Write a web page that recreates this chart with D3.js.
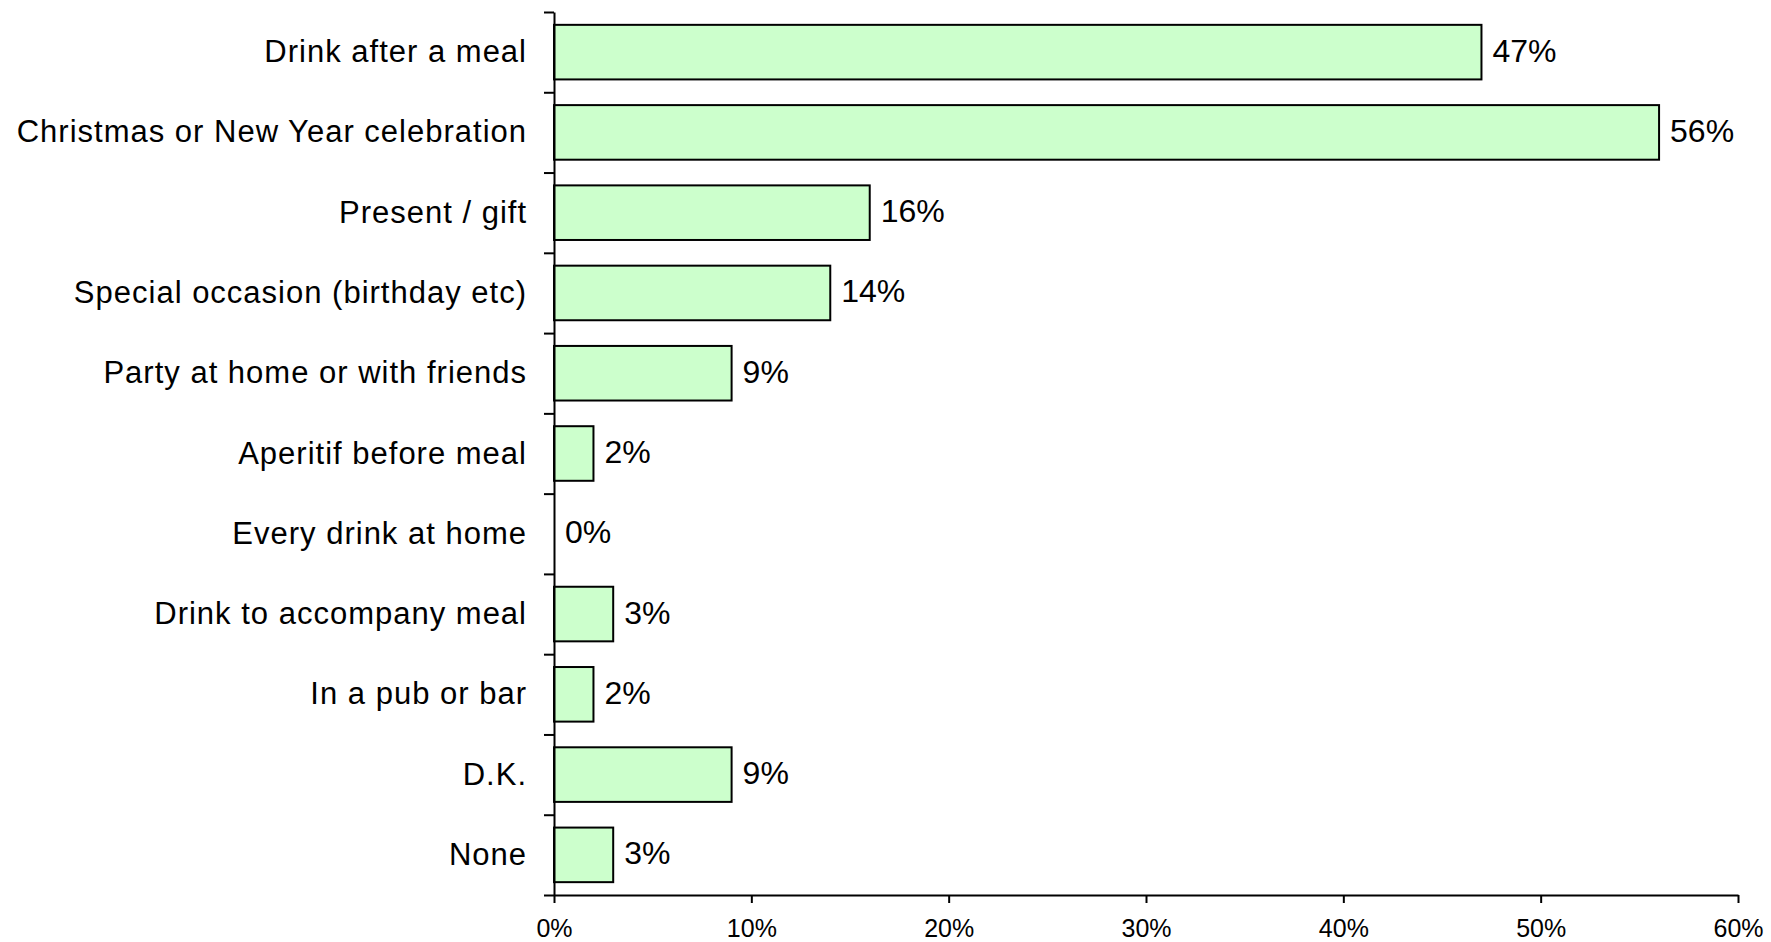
<!DOCTYPE html>
<html>
<head>
<meta charset="utf-8">
<script src="https://cdn.jsdelivr.net/npm/d3@7"></script>
<style>
  html, body { margin: 0; padding: 0; background: #ffffff; }
  svg { display: block; font-family: "Liberation Sans", Arial, sans-serif; }
</style>
</head>
<body>
<svg id="chart" width="1771" height="942"></svg>
<script>
// Occasions for drinking, share of respondents (%)
const categories = [
  "Drink after a meal",
  "Christmas or New Year celebration",
  "Present / gift",
  "Special occasion (birthday etc)",
  "Party at home or with friends",
  "Aperitif before meal",
  "Every drink at home",
  "Drink to accompany meal",
  "In a pub or bar",
  "D.K.",
  "None"
];
const values = [47, 56, 16, 14, 9, 2, 0, 3, 2, 9, 3];
const xTicks = [0, 10, 20, 30, 40, 50, 60];

const svg = d3.select("#chart");

const plotLeft = 554, plotRight = 1738, plotTop = 12, plotBottom = 895;

const x = d3.scaleLinear().domain([0, 60]).range([plotLeft, plotRight]);
const y = d3.scaleBand()
  .domain(categories)
  .range([plotTop, plotBottom])
  .paddingInner(0.32)
  .paddingOuter(0.16);

// Bars
svg.append("g").selectAll("rect")
  .data(values)
  .join("rect")
  .attr("x", x(0))
  .attr("y", (d, i) => y(categories[i]))
  .attr("width", d => x(d) - x(0))
  .attr("height", y.bandwidth())
  .attr("fill", "#ccffcc")
  .attr("stroke", "#000")
  .attr("stroke-width", 2);

// Value labels
svg.append("g").selectAll("text")
  .data(values)
  .join("text")
  .attr("x", d => x(d) + 11)
  .attr("y", (d, i) => y(categories[i]) + y.bandwidth() / 2 + 9.5)
  .attr("font-size", 32)
  .attr("fill", "#000")
  .text(d => d + "%");

// Category axis: ticks sit on the boundaries between bands
const yEdges = d3.scaleLinear().domain([0, categories.length]).range([plotTop, plotBottom]);
const yAxis = svg.append("g")
  .attr("transform", `translate(${plotLeft},0)`)
  .call(d3.axisLeft(yEdges)
    .tickValues(d3.range(categories.length + 1))
    .tickSize(10)
    .tickSizeOuter(0)
    .tickFormat(""));
yAxis.select(".domain").attr("stroke", "#000").attr("stroke-width", 2);
yAxis.selectAll(".tick line").attr("stroke", "#000").attr("stroke-width", 2);

// Category labels
svg.append("g").selectAll("text")
  .data(categories)
  .join("text")
  .attr("x", plotLeft - 27)
  .attr("y", d => y(d) + y.bandwidth() / 2 + 10)
  .attr("text-anchor", "end")
  .attr("font-size", 31)
  .attr("letter-spacing", 1)
  .attr("fill", "#000")
  .text(d => d);

// Value axis
const xAxis = svg.append("g")
  .attr("transform", `translate(0,${plotBottom})`)
  .call(d3.axisBottom(x)
    .tickValues(xTicks)
    .tickSize(8)
    .tickSizeOuter(0)
    .tickFormat(d => d + "%"));
xAxis.select(".domain").attr("stroke", "#000").attr("stroke-width", 2);
xAxis.selectAll(".tick line").attr("stroke", "#000").attr("stroke-width", 2);
xAxis.selectAll(".tick text")
  .attr("y", 24)
  .attr("dy", "0.71em")
  .attr("font-size", 25)
  .attr("font-family", "Liberation Sans, Arial, sans-serif")
  .attr("fill", "#000");
</script>
</body>
</html>
